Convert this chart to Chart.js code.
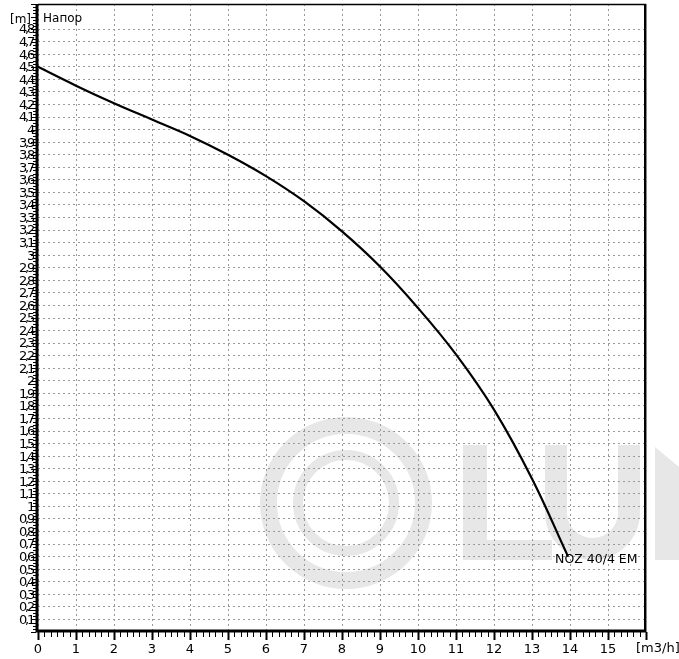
<!DOCTYPE html>
<html><head><meta charset="utf-8">
<script src="https://cdn.jsdelivr.net/npm/chart.js@4.4.0/dist/chart.umd.min.js"></script>
<style>html,body{margin:0;padding:0;background:#fff}#wrap{width:679px;height:659px;position:relative}</style>
</head><body><div id="wrap"><canvas id="c"></canvas></div>
<script>
// ---- data ----
const flowValues = [0, 1, 2, 3, 4, 5, 6, 7, 8, 9, 10, 11, 12, 13, 13.95];
const headValues = [4.5, 4.35, 4.21, 4.08, 3.95, 3.8, 3.63, 3.43, 3.19, 2.91, 2.58, 2.21, 1.77, 1.22, 0.6];
const seriesName = 'NOZ 40/4 EM';
const yAxisName = 'Напор';
const yUnitLabel = '[m]';
const xUnitLabel = '[m3/h]';
const xRange = [0, 16];
const yRange = [0, 5];
const xStep = 1;
const yStep = 0.1;

const FONT = "'DejaVu Sans', Verdana, sans-serif";

const decor = {
  id: 'decor',
  beforeDraw(chart) {
    const ctx = chart.ctx;
    // watermark logo (decoration)
    ctx.save();
    ctx.fillStyle = '#e7e7e7';
    ctx.strokeStyle = '#e7e7e7';
    ctx.lineWidth = 17;
    ctx.beginPath(); ctx.arc(346, 503, 77.5, 0, Math.PI * 2); ctx.stroke();
    ctx.lineWidth = 10;
    ctx.beginPath(); ctx.arc(346, 503, 48, 0, Math.PI * 2); ctx.stroke();
    // L
    ctx.fillRect(463, 445, 24, 115);
    ctx.fillRect(463, 540, 89, 20);
    // U
    ctx.beginPath();
    ctx.moveTo(545, 445); ctx.lineTo(545, 512.5);
    ctx.arc(592.5, 512.5, 47.5, Math.PI, 0, true);
    ctx.lineTo(640, 445); ctx.lineTo(618, 445); ctx.lineTo(618, 512.5);
    ctx.arc(592.5, 512.5, 25.5, 0, Math.PI, false);
    ctx.lineTo(567, 445); ctx.closePath(); ctx.fill();
    // N (cut off)
    ctx.beginPath();
    ctx.moveTo(655, 447); ctx.lineTo(700, 484.5); ctx.lineTo(700, 560); ctx.lineTo(655, 560);
    ctx.closePath(); ctx.fill();
    ctx.restore();

    // condensed y tick labels
    const ys = chart.scales.y;
    if (ys && !ys._condensed) {
      const orig = ys.drawLabels;
      ys.drawLabels = function (area) {
        const c = this.ctx;
        c.save();
        c.letterSpacing = '-2.2px';
        orig.call(this, area);
        c.letterSpacing = '0px';
        c.restore();
      };
      ys._condensed = true;
    }
  },
  afterDraw(chart) {
    const { ctx, chartArea: a, scales: { x, y } } = chart;
    ctx.save();
    ctx.strokeStyle = '#000';
    // frame top/right
    ctx.lineWidth = 1.5;
    ctx.beginPath(); ctx.moveTo(a.left, a.top + 0.5); ctx.lineTo(a.right, a.top + 0.5); ctx.stroke();
    ctx.lineWidth = 2;
    ctx.beginPath(); ctx.moveTo(a.right - 1, a.top); ctx.lineTo(a.right - 1, a.bottom); ctx.stroke();
    ctx.strokeStyle = '#888';
    ctx.lineWidth = 1;
    ctx.beginPath(); ctx.moveTo(a.right + 0.5, a.top); ctx.lineTo(a.right + 0.5, a.bottom); ctx.stroke();
    ctx.strokeStyle = '#000';
    // axes
    ctx.lineWidth = 3;
    ctx.beginPath(); ctx.moveTo(a.left - 2, a.bottom - 1); ctx.lineTo(a.right, a.bottom - 1); ctx.stroke();
    ctx.beginPath(); ctx.moveTo(a.left - 1, a.top); ctx.lineTo(a.left - 1, a.bottom); ctx.stroke();
    // x ticks (major + minor)
    const xSub = 6;
    for (let k = 0; k <= (xRange[1] - xRange[0]) * xSub; k++) {
      const v = xRange[0] + k / xSub;
      const px = Math.round(x.getPixelForValue(v)) + 0.5;
      const major = k % xSub === 0;
      ctx.lineWidth = major ? 2 : 1;
      ctx.beginPath(); ctx.moveTo(px, a.bottom); ctx.lineTo(px, a.bottom + (major ? 8 : 5)); ctx.stroke();
    }
    // y ticks (major + minor)
    const ySub = 4;
    for (let k = 0; k <= Math.round((yRange[1] - yRange[0]) / yStep) * ySub; k++) {
      const v = yRange[0] + k * yStep / ySub;
      const py = Math.round(y.getPixelForValue(v)) + 0.5;
      const major = k % ySub === 0;
      ctx.lineWidth = 1;
      ctx.beginPath(); ctx.moveTo(a.left - 2, py); ctx.lineTo(a.left - (major ? 7 : 5), py); ctx.stroke();
    }
    // texts
    ctx.fillStyle = '#000';
    ctx.textBaseline = 'middle';
    ctx.font = '12px ' + FONT;
    ctx.textAlign = 'right';
    ctx.fillText(yUnitLabel, a.left - 7, y.getPixelForValue(4.9) + 3);
    ctx.textAlign = 'left';
    ctx.fillText(yAxisName, a.left + 5, y.getPixelForValue(4.9) + 2);
    ctx.font = '13px ' + FONT;
    ctx.fillText(xUnitLabel, 636, a.bottom + 17);
    ctx.font = '12.5px ' + FONT;
    const n = flowValues.length - 1;
    ctx.fillText(seriesName, x.getPixelForValue(flowValues[n]) - 13, y.getPixelForValue(headValues[n]) + 3);
    ctx.restore();
  }
};

const fmt = v => (Math.round(v * 10) / 10).toString().replace('.', ',');

new Chart(document.getElementById('c'), {
  type: 'line',
  data: {
    datasets: [{
      label: seriesName,
      data: flowValues.map((fx, i) => ({ x: fx, y: headValues[i] })),
      borderColor: '#000',
      borderWidth: 2.2,
      pointRadius: 0,
      tension: 0.4,
      fill: false
    }]
  },
  options: {
    responsive: true,
    maintainAspectRatio: false,
    animation: false,
    events: [],
    layout: { padding: { top: 4, right: 33, left: 0, bottom: 0 } },
    plugins: { legend: { display: false }, tooltip: { enabled: false } },
    scales: {
      x: {
        type: 'linear',
        min: xRange[0], max: xRange[1],
        afterFit(s) { s.height = 27; s.paddingLeft = 0; s.paddingRight = 0; },
        border: { display: false, dash: [2, 3] },
        grid: { color: '#9a9a9a', lineWidth: 1, drawTicks: false },
        ticks: {
          stepSize: xStep, autoSkip: false, maxRotation: 0, padding: 10,
          color: '#000', font: { family: FONT, size: 13 },
          callback: v => (v >= xRange[1] - 1e-9 ? null : fmt(v))
        }
      },
      y: {
        type: 'linear',
        min: yRange[0], max: yRange[1],
        afterFit(s) { s.width = 38; s.paddingTop = 0; s.paddingBottom = 0; },
        border: { display: false, dash: [2, 3] },
        grid: { color: '#9a9a9a', lineWidth: 1, drawTicks: false },
        ticks: {
          stepSize: yStep, autoSkip: false, padding: 5, labelOffset: 1,
          color: '#000', font: { family: FONT, size: 13 },
          callback: v => {
            if (v <= 1e-9 || v >= 4.85) return null;
            return fmt(v);
          }
        }
      }
    }
  },
  plugins: [decor]
});
</script>
</body></html>
